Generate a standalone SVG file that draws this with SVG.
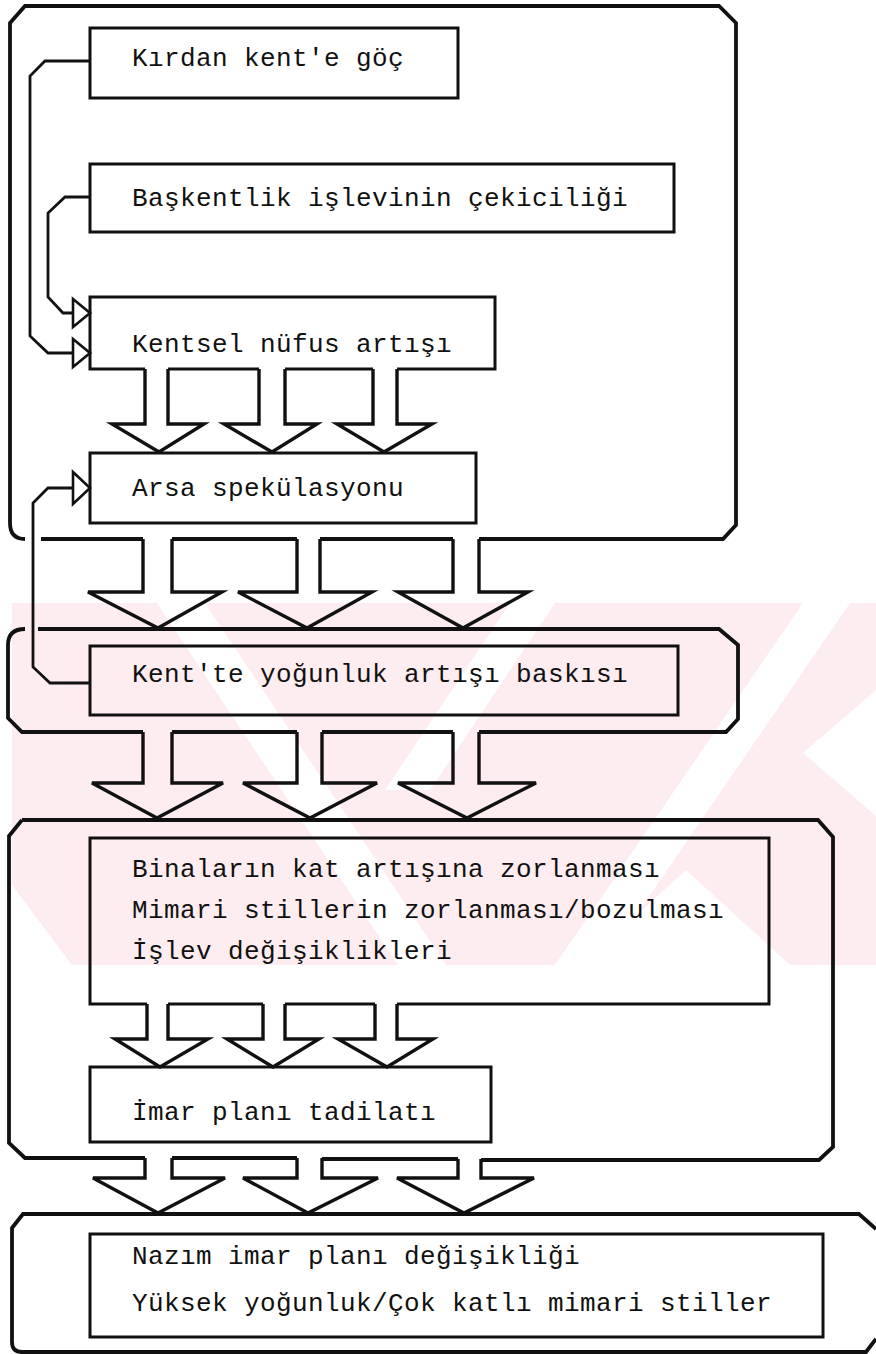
<svg xmlns="http://www.w3.org/2000/svg" width="876" height="1354" viewBox="0 0 876 1354">
<style>
.c{fill:none;stroke:#111;stroke-width:3.8;stroke-linejoin:miter;stroke-linecap:butt}
.b{fill:none;stroke:#111;stroke-width:3}
.a{fill:none;stroke:#111;stroke-width:3.4;stroke-linejoin:miter}
.f{fill:none;stroke:#111;stroke-width:2.8}
.h{fill:#fff;stroke:#111;stroke-width:2.6;stroke-linejoin:miter}
.w{fill:#fdedf0}
.g{fill:#fff}
text{font-family:"Liberation Mono","DejaVu Sans Mono",monospace;font-size:26px;letter-spacing:0.4px;fill:#111}
</style>
<rect width="876" height="1354" fill="#fff"/>
<g id="watermark">
<rect class="w" x="12" y="603" width="864" height="362"/>
<polygon class="g" points="157,603 205,603 446,965 398,965"/>
<polygon class="g" points="510,603 555,603 430,790 385,790"/>
<polygon class="g" points="803,603 850,603 602,965 555,965"/>
<polygon class="g" points="686,870 790,965 582,965"/>
<polygon class="g" points="12,885 72,965 12,965"/>
<polygon class="g" points="876,690 803,753 876,816"/>
</g>
<g id="container1">
<path class="c" d="M25 539 Q10 539 10 523 V23 L25 6 H719 L736 23 V525 L723 539 H479 M453 539 H320 M297 539 H172 M143 539 H41"/>
</g>
<g id="container2">
<path class="c" d="M38 629 H719 L738 645 V719 L726 732 H479 M453 732 H322 M297 732 H172 M143 732 H22 L8 718 V645 Q8 629 25 629"/>
</g>
<g id="container3">
<path class="c" d="M22 820 H818 L833 837 V1147 L819 1160 H481 M458 1159 H322 M297 1158 H172 M145 1158 H25 L9 1143 V836 L22 820"/>
</g>
<g id="container4">
<path class="c" d="M876 1229 L859 1214 H23 L12 1228 V1342 Q12 1352 22 1352 H866 L876 1339"/>
</g>
<g id="n1">
<rect class="b" x="90" y="28" width="368" height="70"/>
<text x="132" y="66">Kırdan kent'e göç</text>
</g>
<g id="n2">
<rect class="b" x="90" y="164" width="584" height="68"/>
<text x="132" y="206">Başkentlik işlevinin çekiciliği</text>
</g>
<g id="n3">
<path class="b" d="M145 369 H90 V297 H495 V369 H397 M373 369 H285 M259 369 H168"/>
<text x="132" y="352">Kentsel nüfus artışı</text>
</g>
<g id="n4">
<rect class="b" x="90" y="453" width="386" height="70"/>
<text x="132" y="496">Arsa spekülasyonu</text>
</g>
<g id="n5">
<rect class="b" x="90" y="646" width="588" height="69"/>
<text x="132" y="682">Kent'te yoğunluk artışı baskısı</text>
</g>
<g id="n6">
<path class="b" d="M147 1004 H90 V838 H769 V1004 H397 M375 1004 H285 M263 1004 H168"/>
<text x="132" y="877">Binaların kat artışına zorlanması</text>
<text x="132" y="918">Mimari stillerin zorlanması/bozulması</text>
<text x="132" y="959">İşlev değişiklikleri</text>
</g>
<g id="n7">
<rect class="b" x="90" y="1067" width="401" height="75"/>
<text x="132" y="1120">İmar planı tadilatı</text>
</g>
<g id="n8">
<rect class="b" x="90" y="1234" width="733" height="103"/>
<text x="132" y="1264">Nazım imar planı değişikliği</text>
<text x="132" y="1311">Yüksek yoğunluk/Çok katlı mimari stiller</text>
</g>
<g id="connectors">
<path class="a" d="M143 539 V592 H88 L158 628 L222 592 H172 V539"/>
<path class="a" d="M297 539 V592 H238 L307 628 L372 592 H320 V539"/>
<path class="a" d="M453 539 V592 H398 L463 628 L528 592 H479 V539"/>
<path class="a" d="M143 732 V783 H92 L157 818 L223 783 H172 V732"/>
<path class="a" d="M297 732 V783 H243 L310 818 L377 783 H322 V732"/>
<path class="a" d="M453 732 V783 H398 L467 818 L536 783 H479 V732"/>
<path class="a" d="M145 1158 V1178 H93 L158 1213 L225 1178 H172 V1158"/>
<path class="a" d="M297 1158 V1178 H243 L308 1213 L378 1178 H322 V1158"/>
<path class="a" d="M458 1159 V1178 H397 L464 1213 L534 1178 H481 V1159"/>
<path class="a" d="M145 369 V424 H112 L159 452 L204 424 H168 V369"/>
<path class="a" d="M259 369 V424 H224 L272 452 L317 424 H285 V369"/>
<path class="a" d="M373 369 V424 H337 L384 452 L432 424 H397 V369"/>
<path class="a" d="M147 1004 V1039 H115 L160 1067 L208 1039 H168 V1004"/>
<path class="a" d="M263 1004 V1039 H227 L273 1067 L319 1039 H285 V1004"/>
<path class="a" d="M375 1004 V1039 H338 L387 1067 L433 1039 H397 V1004"/>
<path class="f" d="M90 61 H45 L30 76 V336 L48 353 H73"/>
<polygon class="h" points="73,339 90,353 73,367"/>
<path class="f" d="M90 197 H65 L48 213 V297 L63 313 H73"/>
<polygon class="h" points="73,299 90,313 73,327"/>
<path class="f" d="M90 683 H50 L33 667 V503 L48 488 H73"/>
<polygon class="h" points="73,472 90,488 73,504"/>
</g>
</svg>
